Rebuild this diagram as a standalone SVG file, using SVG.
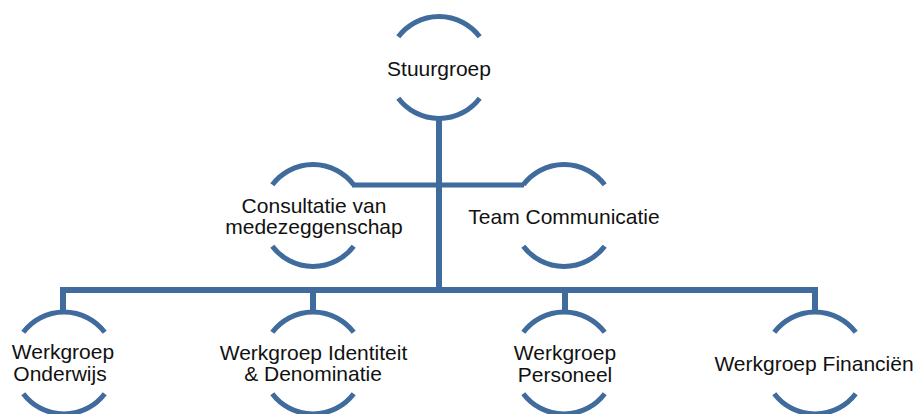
<svg xmlns="http://www.w3.org/2000/svg" width="919" height="414" viewBox="0 0 919 414">
<style>
.ring{fill:none;stroke:#3F6B9D;stroke-width:5;stroke-linecap:butt}
.conn{fill:none;stroke:#3F6B9D;stroke-width:6;stroke-linejoin:miter;stroke-linecap:butt}
.thin{stroke-width:5}
text{font-family:"Liberation Sans",Arial,sans-serif;font-size:21px;fill:#111;text-anchor:middle}
</style>
<defs>
<g id="ring">
<path class="ring" d="M-40.7 -30.7 A51 51 0 0 1 40.7 -30.7"/>
<path class="ring" d="M-40.7 30.7 A51 51 0 0 0 40.7 30.7"/>
</g>
</defs>
<rect width="919" height="414" fill="#fff"/>
<g id="connectors">
<path class="conn" d="M439 117 V290"/>
<path class="conn" d="M63 314 V290 H815 V314"/>
<path class="conn" d="M313 290 V314"/>
<path class="conn" d="M565 290 V314"/>
<path class="conn thin" d="M352 185 H524"/>
</g>
<g id="stuurgroep">
<use href="#ring" x="439" y="67.5"/>
<text x="439" y="76">Stuurgroep</text>
</g>
<g id="consultatie">
<use href="#ring" x="313" y="215.5"/>
<text x="314" y="213">Consultatie van</text>
<text x="314" y="234">medezeggenschap</text>
</g>
<g id="team">
<use href="#ring" x="564" y="215.5"/>
<text x="564" y="224">Team Communicatie</text>
</g>
<g id="onderwijs">
<use href="#ring" x="64" y="363"/>
<text x="63" y="359">Werkgroep</text>
<text x="60" y="381">Onderwijs</text>
</g>
<g id="identiteit">
<use href="#ring" x="313" y="363"/>
<text x="313.5" y="359.5">Werkgroep Identiteit</text>
<text x="313" y="381">&amp; Denominatie</text>
</g>
<g id="personeel">
<use href="#ring" x="564" y="363"/>
<text x="565" y="360">Werkgroep</text>
<text x="565" y="382">Personeel</text>
</g>
<g id="financien">
<use href="#ring" x="815" y="363"/>
<text x="814" y="371">Werkgroep Financiën</text>
</g>
</svg>
